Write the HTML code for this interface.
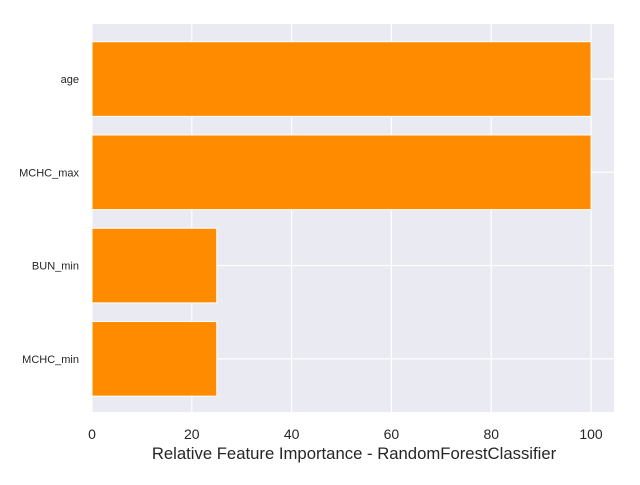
<!DOCTYPE html>
<html><head><meta charset="utf-8"><style>
body{margin:0;background:#fff;font-family:"Liberation Sans",sans-serif;}
</style></head><body>
<svg id="chart" width="640" height="480" xmlns="http://www.w3.org/2000/svg" font-family="Liberation Sans, sans-serif">
<rect x="92" y="24" width="522" height="388" fill="#eaeaf2"/>
<g id="grid"></g><g id="bars"></g><g id="ticks"></g>
<text x="354" y="459" font-size="16.7" text-anchor="middle" fill="#262626">Relative Feature Importance - RandomForestClassifier</text>
</svg>
<script>
const categories=["age","MCHC_max","BUN_min","MCHC_min"];
const values=[100,100,25,25];
const xTicks=[0,20,40,60,80,100];
const L=92,R=614,T=24,B=412,xmax=104.6,ymin=-0.59,ymax=3.57;
const sx=v=>L+(v/xmax)*(R-L);
const sy=i=>T+((i-ymin)/(ymax-ymin))*(B-T);
const ns="http://www.w3.org/2000/svg";
function mk(t,a,p){const e=document.createElementNS(ns,t);for(const k in a)e.setAttribute(k,a[k]);p.appendChild(e);return e;}
const g=document.getElementById('grid'),b=document.getElementById('bars'),tk=document.getElementById('ticks');
xTicks.forEach(v=>{
const l=mk('line',{x1:sx(v),x2:sx(v),y1:T,y2:B,stroke:'#fff','stroke-width':1.2},g);


const t=mk('text',{x:sx(v),y:439,'font-size':14,'text-anchor':'middle',fill:'#262626'},tk);
t.textContent=v;


});
const bh=0.8*(sy(1)-sy(0));
categories.forEach((c,i)=>{
const l=mk('line',{x1:L,x2:R,y1:sy(i),y2:sy(i),stroke:'#fff','stroke-width':1.2},g);


const r=mk('rect',{x:sx(0),y:sy(i)-bh/2,width:sx(values[i])-sx(0),height:bh,fill:'#ff8c00',stroke:'#fff','stroke-width':1},b);


const t=mk('text',{x:79,y:sy(i)+4,'font-size':11,'text-anchor':'end',fill:'#262626'},tk);
t.textContent=c;


});
</script>
</body></html>
